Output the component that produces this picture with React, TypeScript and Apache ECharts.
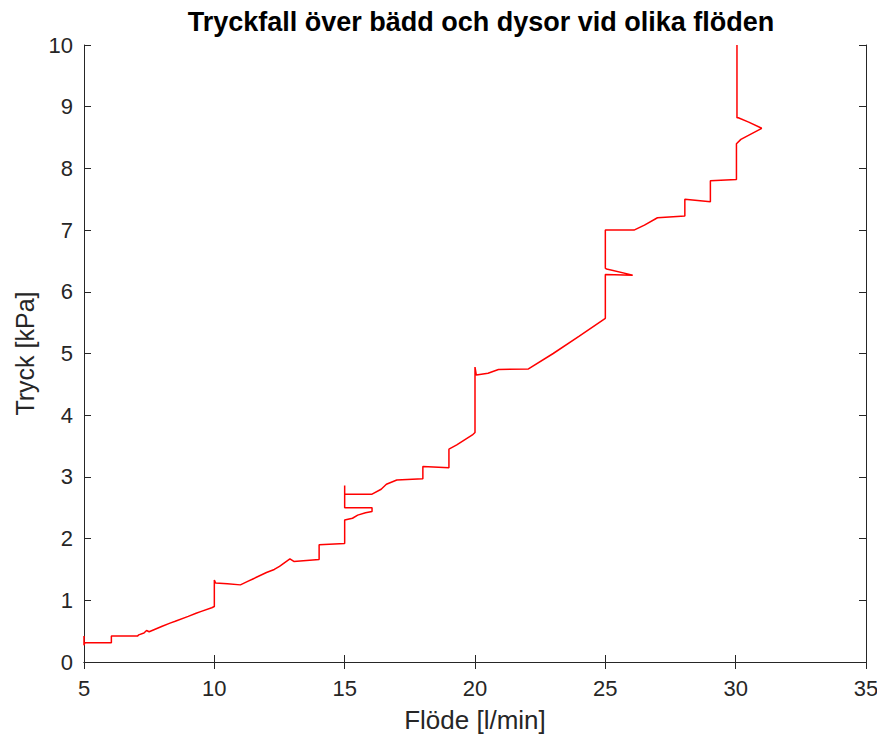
import React, { useEffect, useRef } from "react";
import * as echarts from "echarts";

const titleText = "Tryckfall över bädd och dysor vid olika flöden";
const xName = "Flöde [l/min]";
const yName = "Tryck [kPa]";
const xTicks = [5, 10, 15, 20, 25, 30, 35];
const yTicks = [0, 1, 2, 3, 4, 5, 6, 7, 8, 9, 10];

const flow: number[] = [
  5, 5, 5.03, 6.05, 6.05, 7.05, 7.1, 7.3, 7.4, 7.5, 8, 8.3, 8.5, 9, 9.3, 9.5, 9.9, 10,
  10, 10.05, 10.5, 11, 11.3, 11.5, 12, 12.3, 12.5, 12.9, 13.05, 14.02, 14.02, 15,
  15, 15.3, 15.5, 15.8, 16.05, 16.05, 15, 15, 15, 16.05, 16.4, 16.6, 17, 18, 18, 19,
  19, 19.3, 19.6, 19.9, 20, 20, 20.05, 20.5, 20.9, 22.05, 23, 24, 25, 25, 26.05, 25.05,
  25, 25, 26.1, 26.5, 27, 28.05, 28.05, 29.03, 29.03, 30.03, 30.03, 30.2, 31.0, 30.5,
  30.1, 30.05, 30.05,
];
const pressure: number[] = [
  0.42, 0.27, 0.31, 0.31, 0.42, 0.42, 0.44, 0.47, 0.51, 0.49, 0.58, 0.63, 0.66, 0.74, 0.79, 0.82, 0.88, 0.9,
  1.33, 1.28, 1.27, 1.25, 1.31, 1.35, 1.45, 1.5, 1.55, 1.67, 1.63, 1.66, 1.9, 1.92,
  2.3, 2.33, 2.38, 2.42, 2.44, 2.5, 2.5, 2.86, 2.72, 2.72, 2.8, 2.88, 2.95, 2.97, 3.17, 3.15,
  3.45, 3.52, 3.6, 3.68, 3.72, 4.78, 4.65, 4.68, 4.74, 4.75, 5.0, 5.28, 5.57, 6.28, 6.27, 6.37,
  6.38, 7.0, 7.0, 7.08, 7.2, 7.23, 7.5, 7.46, 7.8, 7.82, 8.4, 8.47, 8.65, 8.75,
  8.82, 8.82, 10.0,
];

const AXIS = "#262626";
const FONT = "'Liberation Sans', Arial, sans-serif";

export default function App() {
  const ref = useRef<HTMLDivElement>(null);
  useEffect(() => {
    if (!ref.current) return;
    const chart = echarts.init(ref.current, undefined, { renderer: "svg" });
    const data = flow.map((x, i) => [x, pressure[i]]);
    const axisCommon = {
      axisLine: { show: true, lineStyle: { color: AXIS, width: 1 } },
      axisTick: { show: true, inside: true, length: 7, lineStyle: { color: AXIS } },
      splitLine: { show: false },
    };
    chart.setOption({
      animation: false,
      backgroundColor: "#ffffff",
      textStyle: { fontFamily: FONT },
      title: {
        text: titleText,
        left: 476,
        textAlign: "center",
        top: 3,
        textStyle: { fontFamily: FONT, fontSize: 27, fontWeight: "bold", color: "#000000" },
      },
      grid: { left: 84, right: 19, top: 45, bottom: 85, containLabel: false },
      xAxis: [
        {
          type: "value",
          min: 5,
          max: 35,
          interval: 5,
          name: xName,
          nameLocation: "middle",
          nameGap: 45,
          nameTextStyle: { fontFamily: FONT, fontSize: 26, color: AXIS },
          axisLabel: {
            fontFamily: FONT,
            fontSize: 22,
            color: AXIS,
            margin: 15,
            formatter: (v: number) => (xTicks.includes(v) ? String(v) : ""),
          },
          ...axisCommon,
        },
        {
          type: "value",
          position: "top",
          min: 5,
          max: 35,
          interval: 5,
          axisLabel: { show: false },
          ...axisCommon,
        },
      ],
      yAxis: [
        {
          type: "value",
          min: 0,
          max: 10,
          interval: 1,
          name: yName,
          nameLocation: "middle",
          nameGap: 46,
          nameTextStyle: { fontFamily: FONT, fontSize: 25, color: AXIS },
          axisLabel: {
            fontFamily: FONT,
            fontSize: 22,
            color: AXIS,
            margin: 11,
            formatter: (v: number) => (yTicks.includes(v) ? String(v) : ""),
          },
          ...axisCommon,
        },
        {
          type: "value",
          position: "right",
          min: 0,
          max: 10,
          interval: 1,
          axisLabel: { show: false },
          ...axisCommon,
        },
      ],
      series: [
        {
          type: "line",
          xAxisIndex: 0,
          yAxisIndex: 0,
          data,
          showSymbol: false,
          symbol: "none",
          lineStyle: { color: "#ff0000", width: 1.5 },
          clip: true,
        },
      ],
    });
    return () => chart.dispose();
  }, []);
  return <div ref={ref} style={{ width: 885, height: 747, margin: -8 }} />;
}
